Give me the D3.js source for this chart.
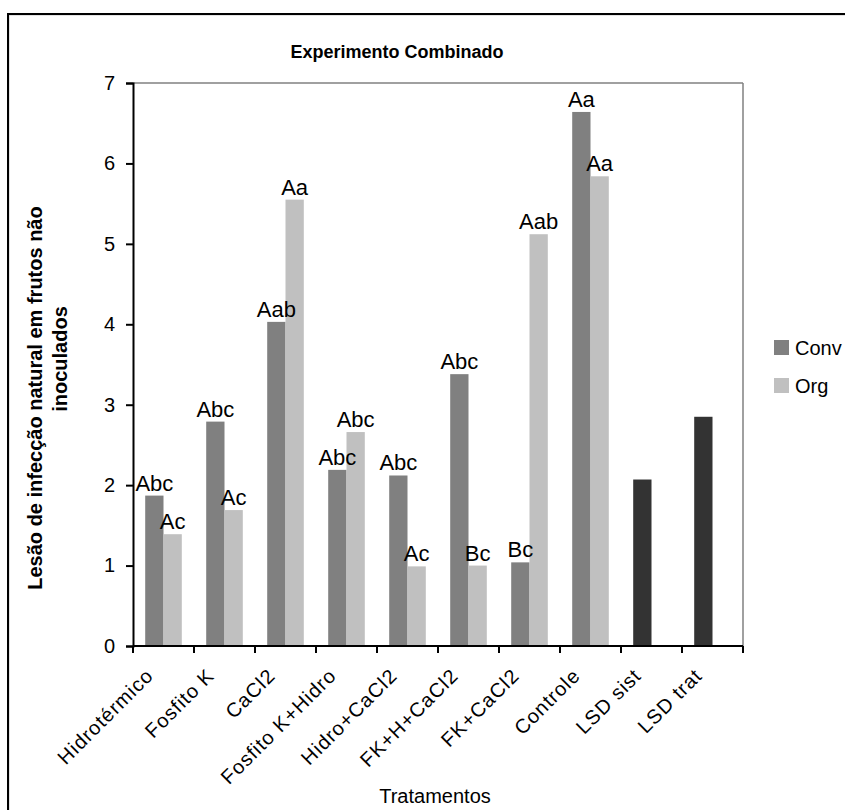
<!DOCTYPE html>
<html>
<head>
<meta charset="utf-8">
<script src="https://cdn.jsdelivr.net/npm/d3@7"></script>
<style>
  html, body { margin: 0; padding: 0; background: #fff; }
  svg text { font-family: "Liberation Sans", Arial, sans-serif; fill: #000; }
</style>
</head>
<body>
<div id="chart"></div>
<script>
const categories = ["Hidrotérmico", "Fosfito K", "CaCl2", "Fosfito K+Hidro", "Hidro+CaCl2", "FK+H+CaCl2", "FK+CaCl2", "Controle", "LSD sist", "LSD trat"];
const treatmentCats = ["Hidrotérmico", "Fosfito K", "CaCl2", "Fosfito K+Hidro", "Hidro+CaCl2", "FK+H+CaCl2", "FK+CaCl2", "Controle"];
const convValues = [1.87, 2.79, 4.03, 2.19, 2.12, 3.38, 1.04, 6.64];
const orgValues = [1.39, 1.69, 5.55, 2.66, 0.99, 1.00, 5.12, 5.84];
const convLabels = ["Abc", "Abc", "Aab", "Abc", "Abc", "Abc", "Bc", "Aa"];
const orgLabels = ["Ac", "Ac", "Aa", "Abc", "Ac", "Bc", "Aab", "Aa"];
const lsdCats = ["LSD sist", "LSD trat"];
const lsdValues = [2.07, 2.85];
const seriesNames = ["Conv", "Org"];
const yTicks = [0, 1, 2, 3, 4, 5, 6, 7];
const title = "Experimento Combinado";
const xTitle = "Tratamentos";
const yTitleLines = ["Lesão de infecção natural em frutos não", "inoculados"];

const W = 845, H = 810;
const colors = { Conv: "#808080", Org: "#c0c0c0", LSD: "#333333" };

const svg = d3.select("#chart").append("svg").attr("width", W).attr("height", H);

// outer frame (cut off at right/bottom)
svg.append("rect").attr("x", 9).attr("y", 15).attr("width", 900).attr("height", 900)
  .attr("fill", "none").attr("stroke", "#c8c8c8").attr("stroke-width", 1);
svg.append("rect").attr("x", 8).attr("y", 14).attr("width", 900).attr("height", 900)
  .attr("fill", "none").attr("stroke", "#000").attr("stroke-width", 2);

const plot = { left: 133, right: 743, top: 83, bottom: 646 };

const x = d3.scaleBand().domain(categories).range([plot.left, plot.right]).paddingInner(0).paddingOuter(0);
const xs = d3.scaleBand().domain(seriesNames).range([0, x.bandwidth()]).paddingInner(0).paddingOuter(0.667);
const y = d3.scaleLinear().domain([0, 7]).range([plot.bottom, plot.top]);

// plot area border (top & right gray)
svg.append("line").attr("x1", plot.left).attr("x2", plot.right).attr("y1", plot.top).attr("y2", plot.top)
  .attr("stroke", "#808080").attr("stroke-width", 1.5);
svg.append("line").attr("x1", plot.right).attr("x2", plot.right).attr("y1", plot.top).attr("y2", plot.bottom)
  .attr("stroke", "#808080").attr("stroke-width", 1.5);

// bars
const g = svg.append("g");
g.selectAll("rect.conv").data(treatmentCats).join("rect")
  .attr("x", (d) => x(d) + xs("Conv"))
  .attr("y", (d, i) => y(convValues[i]))
  .attr("width", xs.bandwidth())
  .attr("height", (d, i) => y(0) - y(convValues[i]))
  .attr("fill", colors.Conv);
g.selectAll("rect.org").data(treatmentCats).join("rect")
  .attr("x", (d) => x(d) + xs("Org"))
  .attr("y", (d, i) => y(orgValues[i]))
  .attr("width", xs.bandwidth())
  .attr("height", (d, i) => y(0) - y(orgValues[i]))
  .attr("fill", colors.Org);
g.selectAll("rect.lsd").data(lsdCats).join("rect")
  .attr("x", (d) => x(d) + xs("Conv"))
  .attr("y", (d, i) => y(lsdValues[i]))
  .attr("width", xs.bandwidth())
  .attr("height", (d, i) => y(0) - y(lsdValues[i]))
  .attr("fill", colors.LSD);

// data labels
const lab = svg.append("g").attr("font-size", 22).attr("text-anchor", "middle");
lab.selectAll("text.cl").data(treatmentCats).join("text")
  .attr("x", (d) => x(d) + xs("Conv") + xs.bandwidth() / 2)
  .attr("y", (d, i) => y(convValues[i]) - 5)
  .text((d, i) => convLabels[i]);
lab.selectAll("text.ol").data(treatmentCats).join("text")
  .attr("x", (d) => x(d) + xs("Org") + xs.bandwidth() / 2)
  .attr("y", (d, i) => y(orgValues[i]) - 5)
  .text((d, i) => orgLabels[i]);

// y axis
const yAxis = svg.append("g").attr("transform", `translate(${plot.left},0)`)
  .call(d3.axisLeft(y).tickValues(yTicks).tickFormat(d3.format("d")).tickSize(7).tickPadding(11));
yAxis.select(".domain").attr("stroke", "#000").attr("stroke-width", 2);
yAxis.selectAll(".tick line").attr("stroke", "#000").attr("stroke-width", 2);
yAxis.selectAll("text").attr("font-size", 20).attr("font-family", "Liberation Sans, Arial, sans-serif");

// x axis
const tickPos = categories.map((c) => x(c)).concat([plot.right]);
const xAxisG = svg.append("g");
xAxisG.append("line").attr("x1", plot.left).attr("x2", plot.right).attr("y1", plot.bottom).attr("y2", plot.bottom)
  .attr("stroke", "#000").attr("stroke-width", 2);
xAxisG.selectAll("line.t").data(tickPos).join("line")
  .attr("x1", (d) => d).attr("x2", (d) => d)
  .attr("y1", plot.bottom).attr("y2", plot.bottom + 7)
  .attr("stroke", "#000").attr("stroke-width", 2);
xAxisG.selectAll("text").data(categories).join("text")
  .attr("transform", (d) => `translate(${x(d) + x.bandwidth() / 2 - 9},${plot.bottom + 31}) rotate(-45)`)
  .attr("text-anchor", "end")
  .attr("font-size", 20)
  .attr("letter-spacing", 1)
  .text((d) => d);

// title
svg.append("text").attr("x", 397).attr("y", 58).attr("text-anchor", "middle")
  .attr("font-size", 18).attr("font-weight", "bold").text(title);

// x title
svg.append("text").attr("x", (plot.left + plot.right) / 2 - 3).attr("y", 803).attr("text-anchor", "middle")
  .attr("font-size", 20).text(xTitle);

// y title
svg.append("text").attr("transform", "translate(42,398) rotate(-90)").attr("text-anchor", "middle")
  .attr("font-size", 20).attr("font-weight", "bold").text(yTitleLines[0]);
svg.append("text").attr("transform", "translate(67,359) rotate(-90)").attr("text-anchor", "middle")
  .attr("font-size", 20).attr("font-weight", "bold").text(yTitleLines[1]);

// legend
const legend = svg.append("g");
seriesNames.forEach((s, i) => {
  const ly = 340 + i * 38;
  legend.append("rect").attr("x", 774).attr("y", ly).attr("width", 15).attr("height", 15).attr("fill", colors[s]);
  legend.append("text").attr("x", 795).attr("y", ly + 15).attr("font-size", 20).text(s);
});
</script>
</body>
</html>
